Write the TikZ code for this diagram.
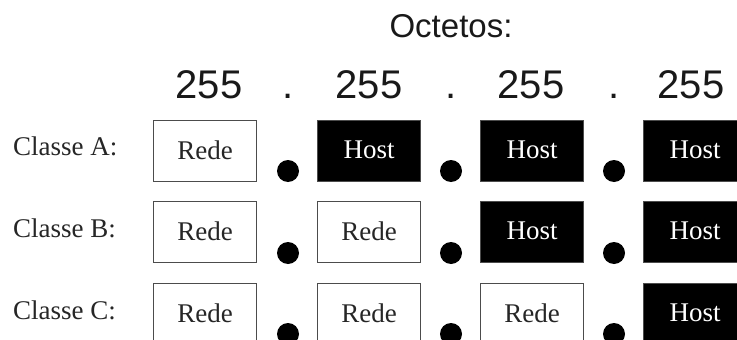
\documentclass[tikz,border=0pt]{standalone}
\usepackage{fontspec}
\setmainfont{Liberation Serif}
\newfontfamily\sansfam{Liberation Sans}
\begin{document}
\begin{tikzpicture}[x=1pt,y=-1pt,
  cellbox/.style={draw=black!70,line width=1.3pt,inner sep=0pt,minimum width=103pt,minimum height=61pt,anchor=north west,font=\fontsize{27}{27}\selectfont},
  rede/.style={cellbox,fill=white,text=black!85},
  hostbox/.style={cellbox,fill=black,text=white},
  sep/.style={circle,fill=black,minimum size=22pt,inner sep=0pt},
  octet/.style={font=\sansfam\fontsize{40}{40}\selectfont,anchor=base,inner sep=0pt,text=black!90},
  rowlabel/.style={font=\fontsize{27}{27}\selectfont,anchor=base west,inner sep=0pt,text=black!85}]
\useasboundingbox (0,0) rectangle (737,340);
\clip (0,0) rectangle (737,340);
\node[font=\sansfam\fontsize{33}{33}\selectfont,anchor=base,inner sep=0pt,text=black!90] (title) at (451,37) {Octetos:};
\node[octet] (o1) at (209,98) {255};
\node[octet] (d1) at (288,98) {.};
\node[octet] (o2) at (369,98) {255};
\node[octet] (d2) at (451,98) {.};
\node[octet] (o3) at (531,98) {255};
\node[octet] (d3) at (614,98) {.};
\node[octet] (o4) at (691,98) {255};
\node[rowlabel] (la) at (13,155) {Classe A:};
\node[rowlabel] (lb) at (13,237) {Classe B:};
\node[rowlabel] (lc) at (13,319) {Classe C:};
% Row A
\node[rede] (a1) at (153,120) {\raisebox{3pt}{Rede}};
\node[hostbox] (a2) at (317,120) {\raisebox{3pt}{Host}};
\node[hostbox] (a3) at (480,120) {\raisebox{3pt}{Host}};
\node[hostbox] (a4) at (643,120) {\raisebox{3pt}{Host}};
% Row B
\node[rede] (b1) at (153,201) {\raisebox{3pt}{Rede}};
\node[rede] (b2) at (317,201) {\raisebox{3pt}{Rede}};
\node[hostbox] (b3) at (480,201) {\raisebox{3pt}{Host}};
\node[hostbox] (b4) at (643,201) {\raisebox{3pt}{Host}};
% Row C
\node[rede] (c1) at (153,283) {\raisebox{3pt}{Rede}};
\node[rede] (c2) at (317,283) {\raisebox{3pt}{Rede}};
\node[rede] (c3) at (480,283) {\raisebox{3pt}{Rede}};
\node[hostbox] (c4) at (643,283) {\raisebox{3pt}{Host}};
% dots
\foreach \r/\y in {a/171,b/253,c/334}{
  \node[sep] (\r p1) at (288,\y) {};
  \node[sep] (\r p2) at (451,\y) {};
  \node[sep] (\r p3) at (614,\y) {};
}
\end{tikzpicture}
\end{document}
